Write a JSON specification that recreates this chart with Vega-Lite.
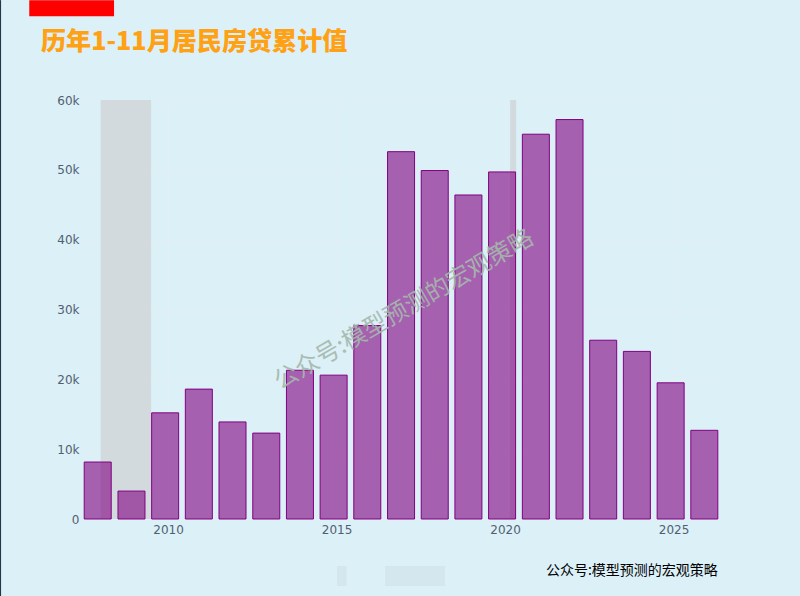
{
  "$schema": "https://vega.github.io/schema/vega-lite/v6.json",
  "width": 640,
  "height": 419,
  "autosize": "none",
  "padding": {"left": 80, "right": 80, "top": 100, "bottom": 77},
  "background": "#dcf0f8",
  "title": {
    "text": "历年1-11月居民房贷累计值",
    "anchor": "start",
    "frame": "group",
    "dx": -39,
    "offset": -55,
    "font": "Noto Sans CJK SC",
    "fontSize": 25.1,
    "fontWeight": 900,
    "color": "#ffa114"
  },
  "config": {"view": {"stroke": null}},
  "datasets": {
    "loans": [
      {"date": "2007-11-30", "value": 8160},
      {"date": "2008-11-30", "value": 4000},
      {"date": "2009-11-30", "value": 15200},
      {"date": "2010-11-30", "value": 18600},
      {"date": "2011-11-30", "value": 13900},
      {"date": "2012-11-30", "value": 12300},
      {"date": "2013-11-30", "value": 21300},
      {"date": "2014-11-30", "value": 20600},
      {"date": "2015-11-30", "value": 27700},
      {"date": "2016-11-30", "value": 52600},
      {"date": "2017-11-30", "value": 49900},
      {"date": "2018-11-30", "value": 46400},
      {"date": "2019-11-30", "value": 49700},
      {"date": "2020-11-30", "value": 55100},
      {"date": "2021-11-30", "value": 57200},
      {"date": "2022-11-30", "value": 25600},
      {"date": "2023-11-30", "value": 24000},
      {"date": "2024-11-30", "value": 19500},
      {"date": "2025-11-30", "value": 12700}
    ],
    "bands": [
      {"start": "2008-01-01", "end": "2009-06-30", "low": 0, "high": 60000},
      {"start": "2020-02-25", "end": "2020-04-30", "low": 0, "high": 60000}
    ],
    "marker": [
      {"start": "2005-11-18", "end": "2008-05-25", "low": 72000, "high": 74300}
    ],
    "smudge": [
      {"start": "2015-01-05", "end": "2015-04-20", "low": -9590, "high": -6730},
      {"start": "2016-06-10", "end": "2018-03-20", "low": -9590, "high": -6730}
    ],
    "edge": [
      {"date": "2005-01-11", "low": -11100, "high": 74300}
    ],
    "watermark": [
      {"date": "2017-01-01", "value": 29900, "label": "公众号:模型预测的宏观策略"}
    ],
    "credit": [
      {"date": "2026-04-25", "value": -7450, "label": "公众号:模型预测的宏观策略"}
    ]
  },
  "layer": [
    {
      "data": {"name": "bands"},
      "mark": {"type": "rect", "color": "#cecece", "opacity": 0.65},
      "encoding": {
        "x": {"field": "start", "type": "temporal", "title": null,
          "scale": {"domain": ["2007-05-22", "2026-05-19"], "nice": false, "padding": 0},
          "axis": {
            "values": ["2010-01-01", "2015-01-01", "2020-01-01", "2025-01-01"],
            "format": "%Y",
            "grid": true,
            "gridColor": "#e4eff5",
            "ticks": false,
            "domain": false,
            "labelFont": "DejaVu Sans",
            "labelFontSize": 12,
            "labelColor": "#506070",
            "labelPadding": 5,
            "labelFlush": false
          }
        },
        "x2": {"field": "end"},
        "y": {"field": "low", "type": "quantitative", "title": null,
          "scale": {"domain": [0, 60000], "nice": false},
          "axis": {
            "values": [0, 10000, 20000, 30000, 40000, 50000, 60000],
            "labelExpr": "datum.value === 0 ? '0' : datum.value / 1000 + 'k'",
            "grid": true,
            "gridColor": "#e4eff5",
            "ticks": false,
            "domain": false,
            "labelFont": "DejaVu Sans",
            "labelFontSize": 12,
            "labelColor": "#506070",
            "labelPadding": 1
          }
        },
        "y2": {"field": "high"}
      }
    },
    {
      "data": {"name": "loans"},
      "mark": {
        "type": "bar",
        "width": 27,
        "color": "#800080",
        "fillOpacity": 0.6,
        "stroke": "#800080",
        "strokeWidth": 1
      },
      "encoding": {
        "x": {"field": "date", "type": "temporal"},
        "y": {"field": "value", "type": "quantitative"}
      }
    },
    {
      "data": {"name": "watermark"},
      "mark": {
        "type": "text",
        "font": "Noto Sans CJK SC",
        "fontSize": 24,
        "angle": -30,
        "align": "center",
        "baseline": "middle",
        "color": "#a5b8ab",
        "opacity": 0.9
      },
      "encoding": {
        "x": {"field": "date", "type": "temporal"},
        "y": {"field": "value", "type": "quantitative"},
        "text": {"field": "label"}
      }
    },
    {
      "data": {"name": "credit"},
      "mark": {
        "type": "text",
        "font": "Noto Sans CJK SC",
        "fontSize": 14,
        "align": "right",
        "baseline": "middle",
        "color": "#000000",
        "clip": false
      },
      "encoding": {
        "x": {"field": "date", "type": "temporal"},
        "y": {"field": "value", "type": "quantitative"},
        "text": {"field": "label"}
      }
    },
    {
      "data": {"name": "smudge"},
      "mark": {"type": "rect", "color": "#9aa5aa", "opacity": 0.12, "clip": false},
      "encoding": {
        "x": {"field": "start", "type": "temporal"},
        "x2": {"field": "end"},
        "y": {"field": "low", "type": "quantitative"},
        "y2": {"field": "high"}
      }
    },
    {
      "data": {"name": "marker"},
      "mark": {"type": "rect", "color": "#ff0000", "clip": false},
      "encoding": {
        "x": {"field": "start", "type": "temporal"},
        "x2": {"field": "end"},
        "y": {"field": "low", "type": "quantitative"},
        "y2": {"field": "high"}
      }
    },
    {
      "data": {"name": "edge"},
      "mark": {"type": "rule", "color": "#1a2a3a", "strokeWidth": 1, "clip": false},
      "encoding": {
        "x": {"field": "date", "type": "temporal"},
        "y": {"field": "low", "type": "quantitative"},
        "y2": {"field": "high"}
      }
    }
  ]
}
